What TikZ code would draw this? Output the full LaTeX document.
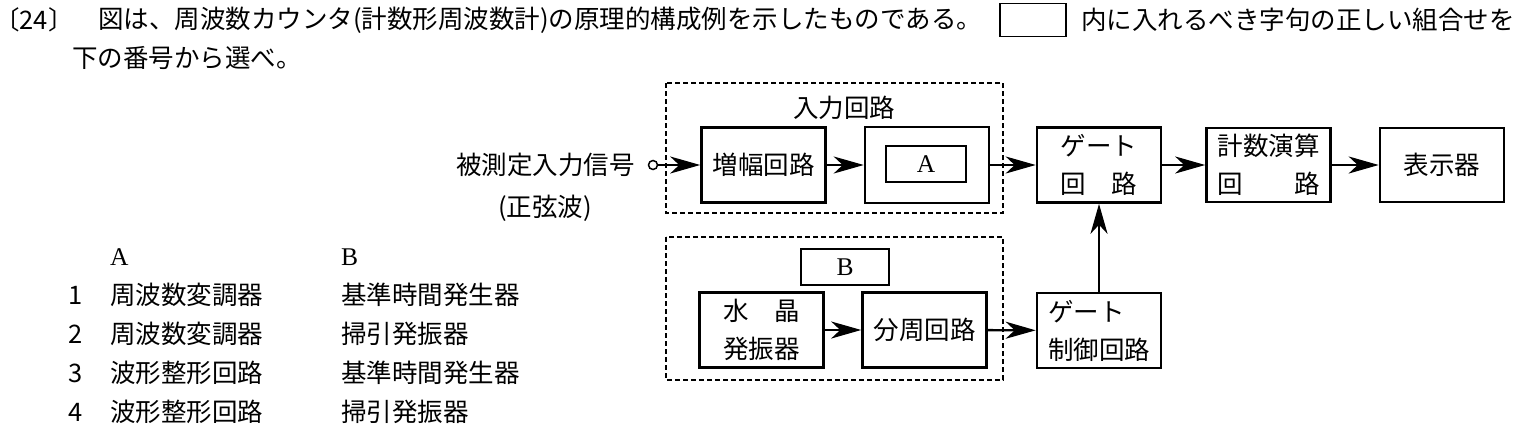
\documentclass[tikz,border=0pt]{standalone}
\usepackage{fontspec}
\setmainfont{Noto Sans CJK JP}
\newfontfamily\letterfont{Liberation Serif}
\usetikzlibrary{arrows.meta}

\begin{document}
\begin{tikzpicture}[x=1pt,y=-1pt,
    font=\fontsize{25.5pt}{38pt}\selectfont,
    txt/.style={inner sep=0pt},
    block/.style={draw,line width=2.6pt,inner sep=0pt,minimum width=124pt,minimum height=75pt,align=center},
    slot/.style={draw,line width=1.3pt,inner sep=0pt},
    group/.style={draw,line width=1.1pt,dash pattern=on 5pt off 3pt},
    flow/.style={line width=2.4pt,-{Stealth[length=30pt,width=17pt,inset=9pt]}}]
        \useasboundingbox (0,0) rectangle (1531,436);

        % question
        \node[txt,anchor=west] (qno) at (6,20) {\kern-12pt〔24〕\kern-12pt};
        \node[txt,anchor=west] (qline1) at (98,20) {図は、周波数カウンタ(計数形周波数計)の原理的構成例を示したものである。};
        \node[slot,minimum width=66pt,minimum height=33pt] (blank) at (1033,20) {};
        \node[txt,anchor=west] (qline2) at (1081,20) {内に入れるべき字句の正しい組合せを};
        \node[txt,anchor=west] (qline3) at (72,58) {下の番号から選べ。};

        % input side
        \node[txt,anchor=east] (src) at (635,165) {被測定入力信号};
        \node[txt] (srcnote) at (545,208) {(正弦波)};
        \node[circle,draw,line width=1.5pt,inner sep=0pt,minimum size=9pt] (inport) at (653,165) {};

        % groups
        \draw[group] (666,83) rectangle (1003,213);
        \draw[group] (666,237) rectangle (1003,380);
        \node[txt] (inlabel) at (844,108) {入力回路};

        % blocks
        \node[block] (amp) at (763.5,165) {増幅回路};
        \node[block,minimum height=76pt] (boxA) at (927,165) {};
        \node[slot,minimum width=80pt,minimum height=36pt] (slotA) at (926,164) {\letterfont A};
        \node[block] (gate) at (1099,165) {ゲート\\回　路};
        \node[block,minimum height=74pt] (count) at (1268.5,165) {計数演算\\回　　路};
        \node[block,minimum height=74pt] (disp) at (1442,165) {表示器};
        \node[slot,minimum width=88pt,minimum height=36pt] (slotB) at (845,267) {\letterfont B};
        \node[block] (xtal) at (761.5,330) {水　晶\\発振器};
        \node[block] (div) at (924.5,330) {分周回路};
        \node[block,align=left] (gatectl) at (1099,330.5) {ゲート\\制御回路};

        % connections
        \draw[flow] (inport) -- (amp);
        \draw[flow] (amp) -- (boxA);
        \draw[flow] (boxA) -- (gate);
        \draw[flow] (gate) -- (count);
        \draw[flow] (count) -- (disp);
        \draw[flow] (xtal) -- (div);
        \draw[flow] (div) -- (gatectl);
        \draw[flow] (gatectl) -- (gate);

        % choices
        \node[txt,anchor=west] (headA) at (110,257) {\letterfont A};
        \node[txt,anchor=west] (headB) at (341,257) {\letterfont B};
        \node[txt] (no1) at (76,295) {1};
        \node[txt,anchor=west] (optA1) at (110,295) {周波数変調器};
        \node[txt,anchor=west] (optB1) at (341,295) {基準時間発生器};
        \node[txt] (no2) at (76,334) {2};
        \node[txt,anchor=west] (optA2) at (110,334) {周波数変調器};
        \node[txt,anchor=west] (optB2) at (341,334) {掃引発振器};
        \node[txt] (no3) at (76,373) {3};
        \node[txt,anchor=west] (optA3) at (110,373) {波形整形回路};
        \node[txt,anchor=west] (optB3) at (341,373) {基準時間発生器};
        \node[txt] (no4) at (76,412) {4};
        \node[txt,anchor=west] (optA4) at (110,412) {波形整形回路};
        \node[txt,anchor=west] (optB4) at (341,412) {掃引発振器};
\end{tikzpicture}
\end{document}
